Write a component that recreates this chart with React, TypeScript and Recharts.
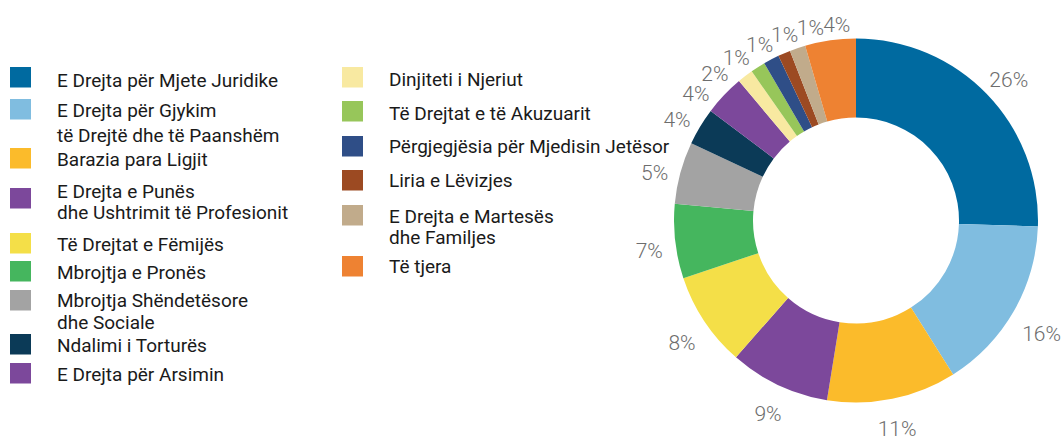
import React from "react";
import { PieChart, Pie, Cell, Legend } from "recharts";

const categories = [
  "E Drejta për Mjete Juridike",
  "E Drejta për Gjykim\ntë Drejtë dhe të Paanshëm",
  "Barazia para Ligjit",
  "E Drejta e Punës\ndhe Ushtrimit të Profesionit",
  "Të Drejtat e Fëmijës",
  "Mbrojtja e Pronës",
  "Mbrojtja Shëndetësore\ndhe Sociale",
  "Ndalimi i Torturës",
  "E Drejta për Arsimin",
  "Dinjiteti i Njeriut",
  "Të Drejtat e të Akuzuarit",
  "Përgjegjësia për Mjedisin Jetësor",
  "Liria e Lëvizjes",
  "E Drejta e Martesës\ndhe Familjes",
  "Të tjera",
];

const values = [25.5, 15.5, 11.5, 8.9, 8.4, 6.6, 5.5, 3.3, 3.6, 1.4, 1.3, 1.4, 1.1, 1.4, 4.5];

const percentLabels = ["26%", "16%", "11%", "9%", "8%", "7%", "5%", "4%", "4%", "2%", "1%", "1%", "1%", "1%", "4%"];

const COLORS = [
  "#006aa0", "#80bde0", "#fbbb2b", "#7c489b", "#f4df48", "#45b65e", "#a3a3a3", "#0b3a57",
  "#7c489b", "#f8e9a1", "#97c65a", "#2f4e87", "#9c4a22", "#c1ab8b", "#ee8232",
];

// layout of legend rows (swatch tops), left column then right column
const LEGEND_LAYOUT = [
  { x: 10, top: 67, off: 19.5, gap: 0 },
  { x: 10, top: 99, off: 17.7, gap: 25 },
  { x: 10, top: 148, off: 17.5, gap: 0 },
  { x: 10, top: 188, off: 9.8, gap: 21 },
  { x: 10, top: 233, off: 17.7, gap: 0 },
  { x: 10, top: 261, off: 18, gap: 0 },
  { x: 10, top: 290, off: 17.3, gap: 22 },
  { x: 10, top: 334, off: 18.3, gap: 0 },
  { x: 10, top: 363, off: 17.7, gap: 0 },
  { x: 342, top: 67, off: 18.7, gap: 0 },
  { x: 342, top: 101, off: 19, gap: 0 },
  { x: 342, top: 136, off: 17.3, gap: 0 },
  { x: 342, top: 170, off: 16.7, gap: 0 },
  { x: 342, top: 205, off: 18.3, gap: 21 },
  { x: 342, top: 256, off: 16.7, gap: 0 },
];

const data = categories.map((name, i) => ({ name, value: values[i], label: percentLabels[i] }));

const RAD = Math.PI / 180;
const FONT = "Roboto, 'Noto Sans', sans-serif";
const CHAR_W = 11.5;
const SEP_R = 200;

// Spread label angles (clockwise from top) so neighbouring labels do not collide.
const labelShifts = (() => {
  const total = values.reduce((a, b) => a + b, 0);
  let acc = 0;
  const mids = values.map((v) => {
    const m = ((acc + v / 2) / total) * 360;
    acc += v;
    return m;
  });
  const ang = mids.slice();
  const widths = percentLabels.map((t) => t.length * CHAR_W);
  for (let it = 0; it < 400; it++) {
    for (let i = 0; i < ang.length - 1; i++) {
      const minSep = (((widths[i] + widths[i + 1]) / 2 + 3) / SEP_R) / RAD;
      const diff = ang[i + 1] - ang[i];
      if (diff < minSep) {
        const p = (minSep - diff) / 2;
        ang[i] -= p;
        ang[i + 1] += p;
      }
    }
  }
  return ang.map((a, i) => a - mids[i]);
})();

const renderLabel = (props: any) => {
  const { cx, cy, midAngle, index } = props;
  const text = percentLabels[index];
  const cw = 90 - midAngle + labelShifts[index]; // clockwise from top, degrees
  const theta = cw * RAD;
  const w = text.length * CHAR_W;
  const r = 196 + (w / 2) * Math.abs(Math.sin(theta)) + 6 * Math.abs(Math.cos(theta));
  const x = cx + r * Math.sin(theta);
  const y = cy - r * Math.cos(theta) + 7;
  return (
    <text
      key={`lbl-${index}`}
      x={x}
      y={y}
      textAnchor="middle"
      dominantBaseline="central"
      fill="#6d6d6d"
      fontFamily={FONT}
      fontWeight={300}
      fontSize={21}
    >
      {text}
    </text>
  );
};

const renderLegend = () => (
  <svg width={700} height={437} style={{ display: "block" }}>
    {categories.map((name, i) => {
      const L = LEGEND_LAYOUT[i];
      const lines = name.split("\n");
      return (
        <g key={name}>
          <rect x={L.x} y={L.top} width={21} height={20.5} fill={COLORS[i]} />
          {lines.map((ln, j) => (
            <text
              key={j}
              x={L.x + 47}
              y={L.top + L.off + j * L.gap}
              fill="#1a1a1a"
              fontFamily={FONT}
              fontSize={19}
            >
              {ln}
            </text>
          ))}
        </g>
      );
    })}
  </svg>
);

export default function App() {
  return (
    <div style={{ position: "absolute", left: 0, top: 0, width: 1064, height: 437, background: "#fff" }}>
      <PieChart width={1064} height={437} margin={{ top: 0, right: 0, bottom: 0, left: 0 }}>
        <Pie
          data={data}
          dataKey="value"
          nameKey="name"
          cx={856}
          cy={220.5}
          innerRadius={103}
          outerRadius={182}
          startAngle={90}
          endAngle={-270}
          stroke="none"
          label={renderLabel}
          labelLine={false}
          isAnimationActive={false}
        >
          {data.map((d, i) => (
            <Cell key={d.name} fill={COLORS[i]} />
          ))}
        </Pie>
        <Legend
          content={renderLegend}
          wrapperStyle={{ position: "absolute", left: 0, top: 0, width: 700, height: 437 }}
        />
      </PieChart>
    </div>
  );
}
